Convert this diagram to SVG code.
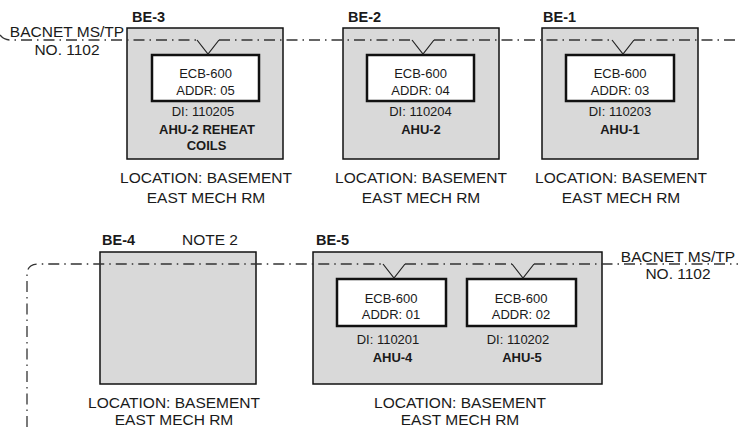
<svg xmlns="http://www.w3.org/2000/svg" width="738" height="427" viewBox="0 0 738 427">
<style>
text{font-family:"Liberation Sans",Arial,sans-serif;fill:#1a1a1a}
.cab{fill:#d9d9d9;stroke:#111;stroke-width:1.5}
.ecb{fill:#fff;stroke:#111;stroke-width:2.5}
.t13{font-size:13px;text-anchor:middle}
.b13{font-size:13px;font-weight:bold;text-anchor:middle}
.lbl{font-size:14.5px;font-weight:bold}
.loc{font-size:15.5px;text-anchor:middle}
.bus{fill:none;stroke:#333;stroke-width:1.3;stroke-dasharray:11 5 1.5 5}
.tap{fill:none;stroke:#222;stroke-width:1.2}
</style>
<rect width="738" height="427" fill="#fff"/>

<g id="BE-3">
<rect class="cab" x="127" y="28" width="156" height="131"/>
<text class="lbl" x="132" y="22">BE-3</text>
<rect class="ecb" x="152" y="55" width="107" height="46"/>
<text class="t13" x="205.5" y="78">ECB-600</text>
<text class="t13" x="205.5" y="94.5">ADDR: 05</text>
<text class="t13" x="203" y="115.5">DI: 110205</text>
<text class="b13" x="207" y="134">AHU-2 REHEAT</text>
<text class="b13" x="206.5" y="150">COILS</text>
<text class="loc" x="206" y="183">LOCATION: BASEMENT</text>
<text class="loc" x="206" y="203">EAST MECH RM</text>
</g>

<g id="BE-2">
<rect class="cab" x="343" y="28" width="156" height="131"/>
<text class="lbl" x="348" y="22">BE-2</text>
<rect class="ecb" x="367" y="55" width="107" height="46"/>
<text class="t13" x="420.5" y="78">ECB-600</text>
<text class="t13" x="420.5" y="94.5">ADDR: 04</text>
<text class="t13" x="420.5" y="115.5">DI: 110204</text>
<text class="b13" x="421" y="134">AHU-2</text>
<text class="loc" x="421" y="183">LOCATION: BASEMENT</text>
<text class="loc" x="421" y="203">EAST MECH RM</text>
</g>

<g id="BE-1">
<rect class="cab" x="542" y="28" width="156" height="131"/>
<text class="lbl" x="543" y="22">BE-1</text>
<rect class="ecb" x="566" y="55" width="108" height="46"/>
<text class="t13" x="620" y="78">ECB-600</text>
<text class="t13" x="620" y="94.5">ADDR: 03</text>
<text class="t13" x="620" y="115.5">DI: 110203</text>
<text class="b13" x="620" y="134">AHU-1</text>
<text class="loc" x="621" y="183">LOCATION: BASEMENT</text>
<text class="loc" x="621" y="203">EAST MECH RM</text>
</g>

<g id="BE-4">
<rect class="cab" x="100" y="252" width="156" height="132"/>
<text class="lbl" x="102" y="245">BE-4</text>
<text style="font-size:15.5px" x="182" y="245">NOTE 2</text>
<text class="loc" x="174" y="408">LOCATION: BASEMENT</text>
<text class="loc" x="174" y="425">EAST MECH RM</text>
</g>

<g id="BE-5">
<rect class="cab" x="313" y="252" width="289" height="132"/>
<text class="lbl" x="316" y="245">BE-5</text>
<rect class="ecb" x="337" y="279" width="109" height="47"/>
<text class="t13" x="391" y="303">ECB-600</text>
<text class="t13" x="391" y="318.5">ADDR: 01</text>
<text class="t13" x="388" y="344">DI: 110201</text>
<text class="b13" x="392.5" y="362">AHU-4</text>
<rect class="ecb" x="467" y="279" width="109" height="47"/>
<text class="t13" x="521" y="303">ECB-600</text>
<text class="t13" x="521" y="318.5">ADDR: 02</text>
<text class="t13" x="518" y="344">DI: 110202</text>
<text class="b13" x="522" y="362">AHU-5</text>
<text class="loc" x="460" y="408">LOCATION: BASEMENT</text>
<text class="loc" x="460" y="425">EAST MECH RM</text>
</g>

<g id="connectors">
<path class="bus" d="M0,35 Q4,40 10,40 H197 M219,40 H412 M434,40 H612 M634,40 H738"/>
<polyline class="tap" points="197,40 208,54 219,40"/>
<polyline class="tap" points="412,40 423,54 434,40"/>
<polyline class="tap" points="612,40 623,54 634,40"/>
<path class="bus" d="M27,427 V275 Q27,264 38,264 H383 M405,264 H512 M534,264 H738"/>
<polyline class="tap" points="383,264 394,278 405,264"/>
<polyline class="tap" points="512,264 523,278 534,264"/>
</g>

<g id="bus-labels">
<text class="loc" x="67" y="37">BACNET MS/TP</text>
<text class="loc" x="67" y="55">NO. 1102</text>
<text class="loc" x="678" y="262">BACNET MS/TP</text>
<text class="loc" x="678" y="279">NO. 1102</text>
</g>
</svg>
